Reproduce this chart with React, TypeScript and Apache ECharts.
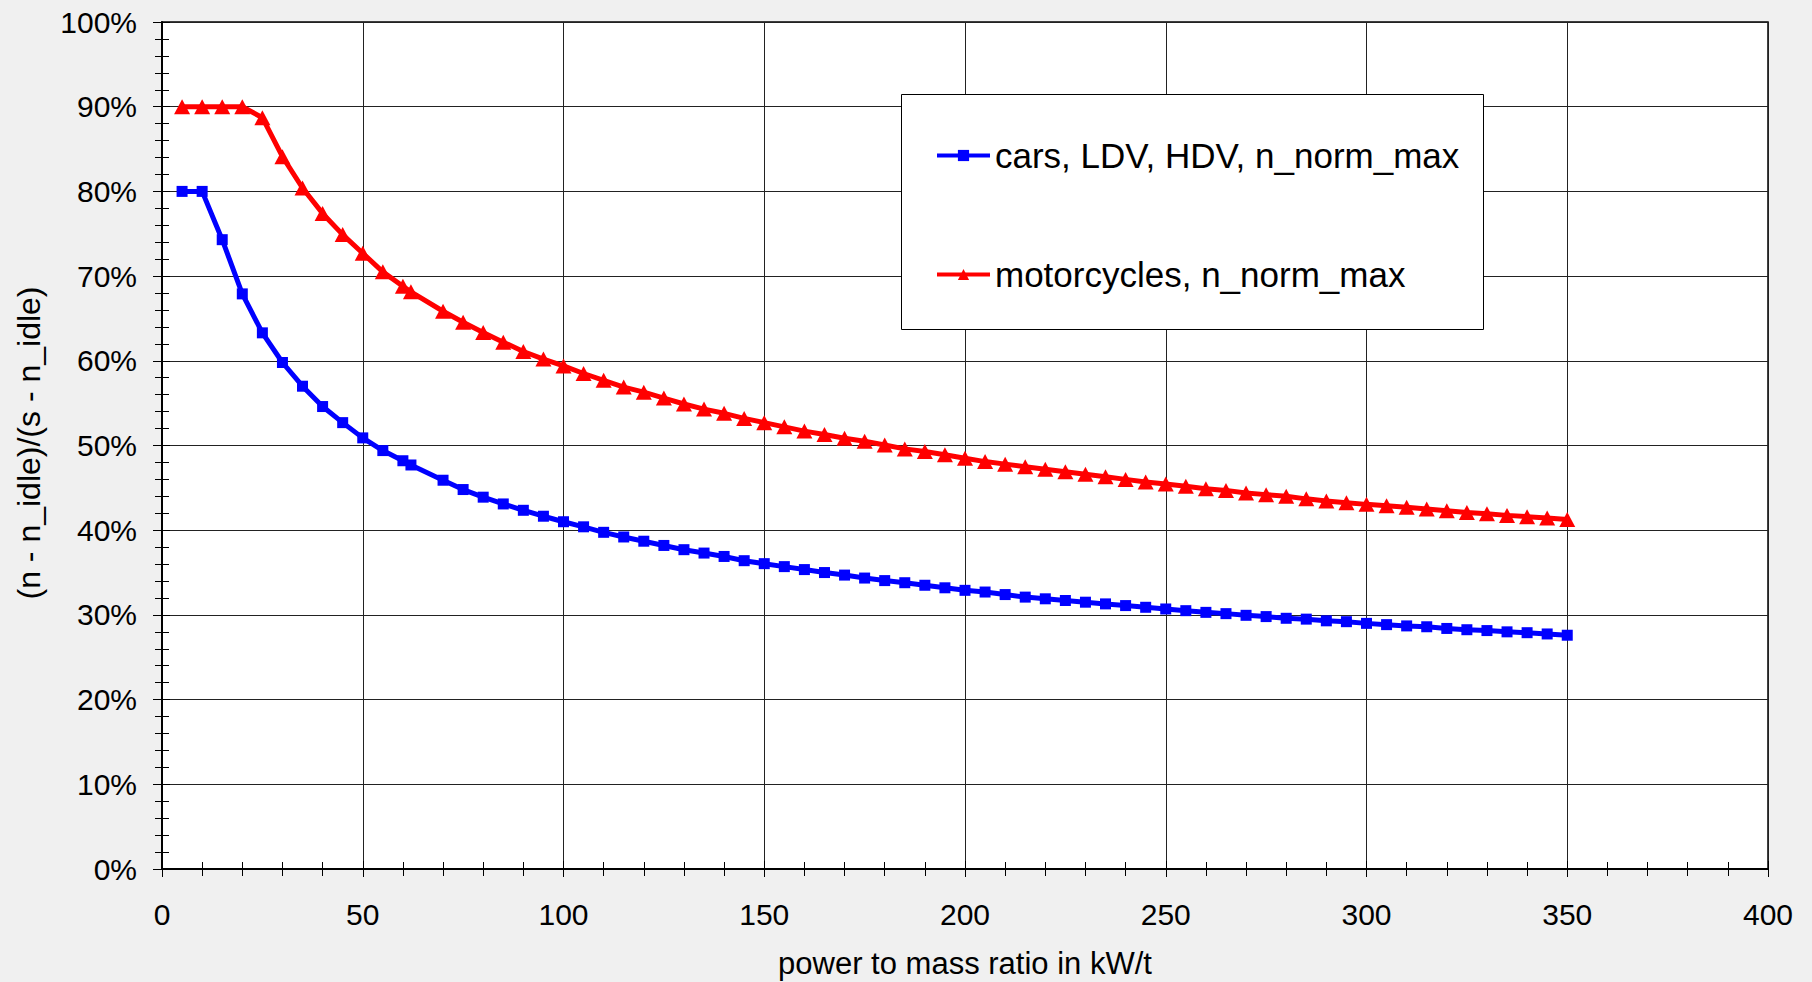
import React, { useEffect, useRef } from "react";
import * as echarts from "echarts";

const xValues = [
  5, 10, 15, 20, 25, 30, 35, 40, 45, 50, 55, 60, 62, 70, 75, 80, 85, 90, 95, 100,
  105, 110, 115, 120, 125, 130, 135, 140, 145, 150, 155, 160, 165, 170, 175, 180,
  185, 190, 195, 200, 205, 210, 215, 220, 225, 230, 235, 240, 245, 250, 255, 260,
  265, 270, 275, 280, 285, 290, 295, 300, 305, 310, 315, 320, 325, 330, 335, 340,
  345, 350,
];

const carsValues = [
  80.0, 80.0, 74.3, 67.9, 63.3, 59.8, 57.0, 54.6, 52.7, 50.9, 49.4, 48.2, 47.7, 45.9,
  44.8, 43.9, 43.1, 42.35, 41.65, 41.0, 40.4, 39.75, 39.2, 38.7, 38.2, 37.7, 37.3,
  36.9, 36.4, 36.05, 35.7, 35.35, 35.0, 34.7, 34.35, 34.05, 33.8, 33.5, 33.2, 32.9,
  32.7, 32.4, 32.1, 31.9, 31.7, 31.5, 31.3, 31.1, 30.9, 30.7, 30.5, 30.3, 30.15,
  29.95, 29.8, 29.6, 29.5, 29.3, 29.2, 29.0, 28.85, 28.7, 28.6, 28.4, 28.25, 28.15,
  28.0, 27.9, 27.75, 27.6,
];

const motoValues = [
  90, 90, 90, 90, 88.7, 84.1, 80.4, 77.4, 74.9, 72.7, 70.5, 68.8, 68.15, 65.85, 64.55,
  63.35, 62.2, 61.1, 60.2, 59.4, 58.5, 57.7, 56.9, 56.3, 55.6, 54.9, 54.3, 53.8, 53.2,
  52.7, 52.2, 51.7, 51.3, 50.85, 50.5, 50.05, 49.6, 49.3, 48.9, 48.5, 48.1, 47.8,
  47.5, 47.2, 46.9, 46.6, 46.3, 46.0, 45.7, 45.45, 45.2, 44.9, 44.7, 44.4, 44.2,
  44.0, 43.7, 43.45, 43.25, 43.05, 42.9, 42.7, 42.5, 42.3, 42.1, 41.95, 41.75, 41.6,
  41.45, 41.25,
];

const seriesNames = ["cars, LDV, HDV, n_norm_max", "motorcycles, n_norm_max"];
const xAxisTitle = "power to mass ratio in kW/t";
const yAxisTitle = "(n - n_idle)/(s - n_idle)";

const FONT = "'Liberation Sans', Arial, sans-serif";

export default function App() {
  const ref = useRef<HTMLDivElement>(null);

  useEffect(() => {
    if (!ref.current) return;
    const chart = echarts.init(ref.current, null, { renderer: "svg" });

    const pair = (ys: number[]) => xValues.map((x, i) => [x, ys[i]]);

    const tickLine = { color: "#000", width: 1 };

    chart.setOption({
      animation: false,
      backgroundColor: "#f0f0f0",
      textStyle: { fontFamily: FONT },
      grid: {
        left: 162,
        top: 22,
        right: 44,
        bottom: 113,
        containLabel: false,
        outerBoundsMode: "none",
        show: true,
        backgroundColor: "#ffffff",
        borderColor: "#000",
        borderWidth: 1.5,
      },
      xAxis: [
        {
          type: "value",
          position: "bottom",
          min: 0,
          max: 400,
          interval: 50,
          name: xAxisTitle,
          nameLocation: "middle",
          nameGap: 79,
          nameTextStyle: { fontSize: 31, color: "#000", fontFamily: FONT },
          axisLine: { show: true, onZero: false, lineStyle: { color: "#000", width: 2 } },
          axisTick: { show: true, inside: false, length: 8, lineStyle: tickLine },
          minorTick: { show: true, splitNumber: 5, length: 7, lineStyle: tickLine },
          axisLabel: { margin: 30, fontSize: 30, color: "#000", fontFamily: FONT },
          splitLine: { show: true, lineStyle: { color: "#222", width: 1 } },
        },
        {
          type: "value",
          position: "bottom",
          min: 0,
          max: 400,
          interval: 50,
          axisLine: { show: false },
          axisTick: { show: true, inside: true, length: 8, lineStyle: tickLine },
          minorTick: { show: true, splitNumber: 5, length: 7, lineStyle: tickLine },
          axisLabel: { show: false },
          splitLine: { show: false },
        },
      ],
      yAxis: [
        {
          type: "value",
          position: "left",
          min: 0,
          max: 100,
          interval: 10,
          axisLine: { show: true, onZero: false, lineStyle: { color: "#000", width: 2 } },
          axisTick: { show: true, inside: false, length: 9, lineStyle: tickLine },
          minorTick: { show: true, splitNumber: 5, length: 7, lineStyle: tickLine },
          axisLabel: {
            margin: 25,
            fontSize: 30,
            color: "#000",
            fontFamily: FONT,
            formatter: "{value}%",
          },
          splitLine: { show: true, lineStyle: { color: "#222", width: 1 } },
        },
        {
          type: "value",
          position: "left",
          min: 0,
          max: 100,
          interval: 10,
          axisLine: { show: false },
          axisTick: { show: true, inside: true, length: 8, lineStyle: tickLine },
          minorTick: { show: true, splitNumber: 5, length: 7, lineStyle: tickLine },
          axisLabel: { show: false },
          splitLine: { show: false },
        },
      ],
      legend: {
        orient: "vertical",
        left: 935,
        top: 138,
        padding: 0,
        itemGap: 84,
        itemWidth: 53,
        itemHeight: 14,
        lineStyle: { width: 4 },
        textStyle: { fontSize: 35, color: "#000", fontFamily: FONT },
        data: seriesNames,
      },
      graphic: [
        {
          type: "rect",
          z: 3,
          shape: { x: 901.5, y: 94.5, width: 582, height: 235 },
          style: { fill: "#ffffff", stroke: "#000", lineWidth: 1 },
        },
        {
          type: "text",
          x: 29,
          y: 443,
          rotation: Math.PI / 2,
          style: {
            text: yAxisTitle,
            fontSize: 32,
            fontFamily: FONT,
            fill: "#000",
            align: "center",
            verticalAlign: "middle",
          },
        },
      ],
      series: [
        {
          name: seriesNames[0],
          type: "line",
          xAxisIndex: 0,
          yAxisIndex: 0,
          data: pair(carsValues),
          symbol: "rect",
          symbolSize: 11,
          lineStyle: { color: "#0000ff", width: 5 },
          itemStyle: { color: "#0000ff" },
          z: 5,
        },
        {
          name: seriesNames[1],
          type: "line",
          xAxisIndex: 0,
          yAxisIndex: 0,
          data: pair(motoValues),
          symbol: "triangle",
          symbolSize: [16, 15],
          lineStyle: { color: "#ff0000", width: 5 },
          itemStyle: { color: "#ff0000" },
          z: 5,
        },
      ],
    });

    return () => chart.dispose();
  }, []);

  return (
    <div
      ref={ref}
      style={{ position: "absolute", left: 0, top: 0, width: 1812, height: 982 }}
    />
  );
}
